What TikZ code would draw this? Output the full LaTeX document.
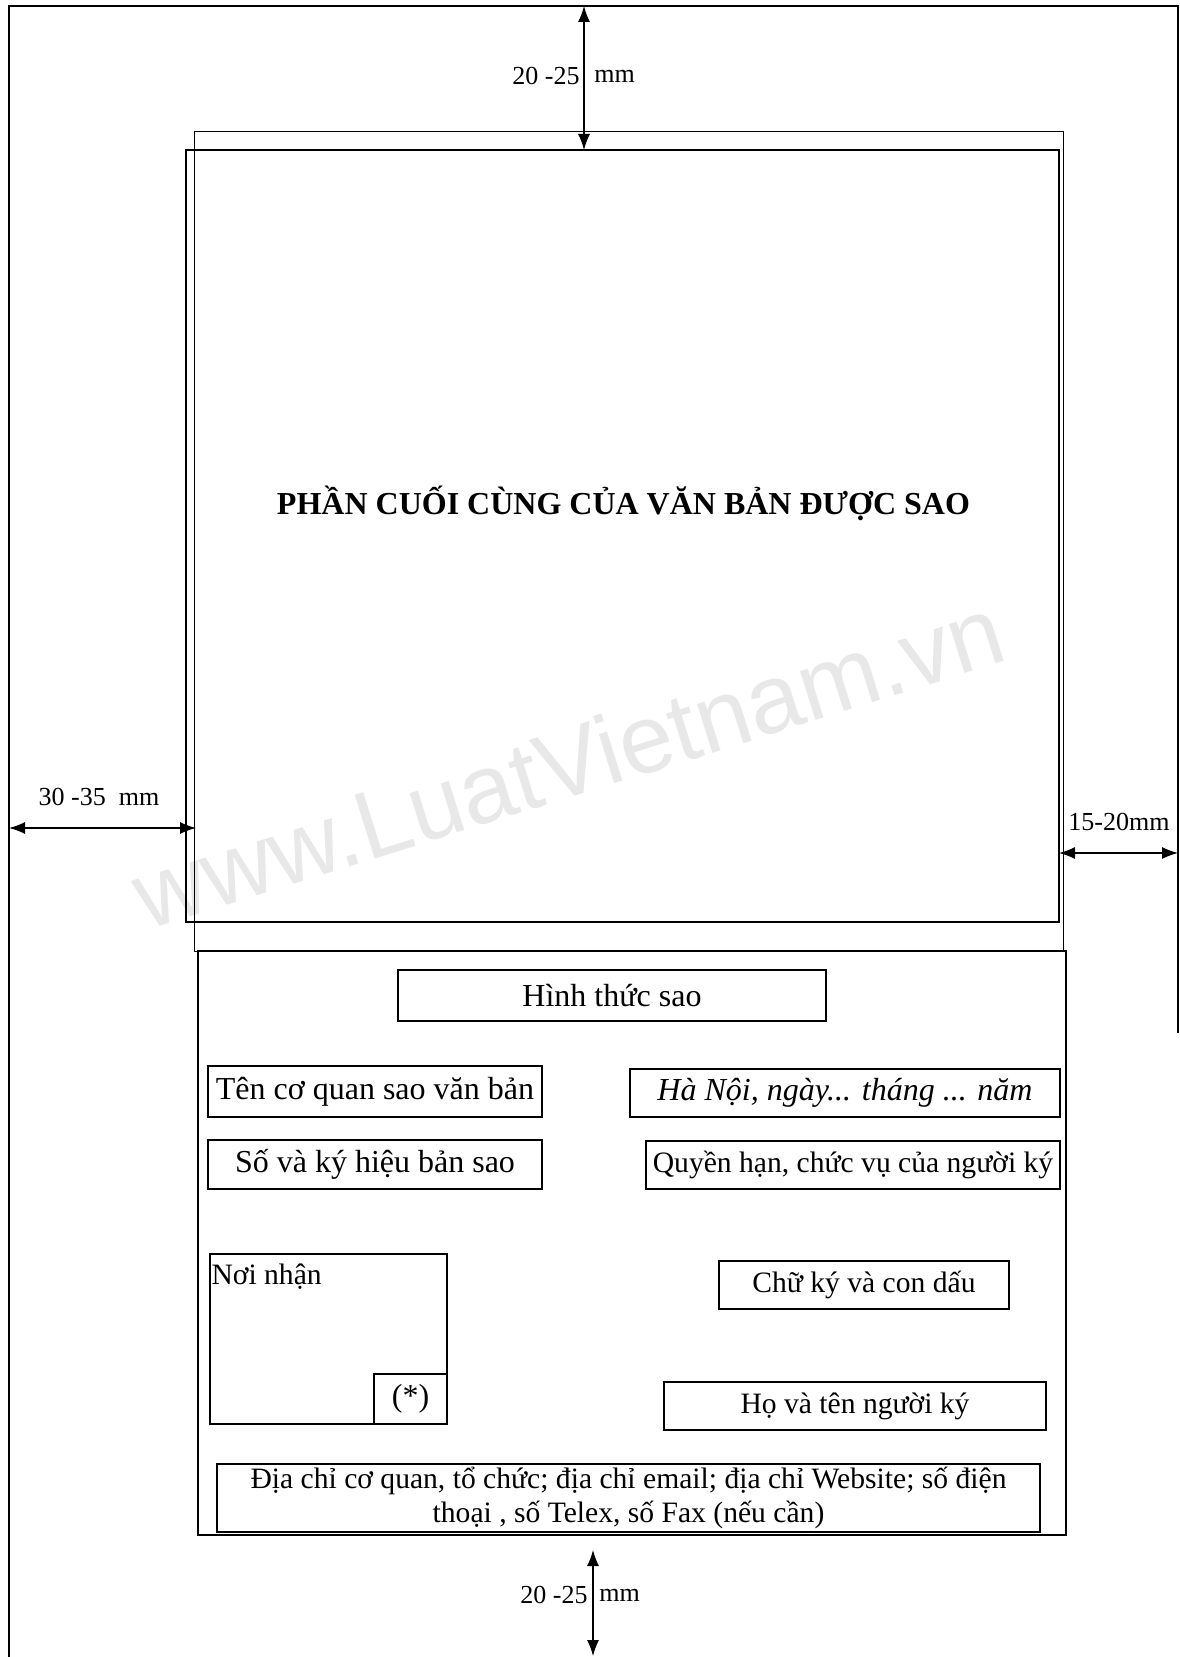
\documentclass[tikz,border=0pt]{standalone}
\usepackage{fontspec}
\setmainfont{Liberation Serif}
\setsansfont{Liberation Sans}
\usepackage{tikz}
\usetikzlibrary{arrows.meta,positioning,calc}
\usepackage{xcolor}
\definecolor{wmgray}{RGB}{232,232,232}

\begin{document}
\begin{tikzpicture}[
  x=0.5pt,y=-0.5pt,
  every node/.style={font=\fontsize{16}{17}\selectfont},
  page/.style={line width=1pt},
  frame/.style={line width=0.9pt},
  thinframe/.style={line width=0.5pt},
  tbox/.style={draw,line width=0.9pt,inner sep=1pt,align=center},
  small/.style={font=\fontsize{14.8}{17}\selectfont},
  dimarr/.style={line width=0.6pt,{Latex[length=8pt,width=6pt]}-{Latex[length=8pt,width=6pt]}},
  dimlbl/.style={inner sep=0pt,font=\fontsize{13}{15}\selectfont}
]
\useasboundingbox (0,0) rectangle (1179,1657);
% watermark
\node[rotate=17.4,text=wmgray,font=\fontsize{48.6}{50}\sffamily] (wm) at (568,762) {www.LuatVietnam.vn};

% page edge
\draw[page] (9,1657) -- (9,6) -- (1178,6) -- (1178,1033);

% frames
\draw[thinframe] (194,132) rectangle (1063,951);
\node[draw,frame,minimum width=436.5pt,minimum height=386pt] (content) at (622.5,536) {};
\draw[frame] (198,951) rectangle (1066,1535);
\node[font=\fontsize{16}{17}\bfseries] (head) at (623.5,503) {PHẦN CUỐI CÙNG CỦA VĂN BẢN ĐƯỢC SAO};

% lower part
\node[tbox,minimum width=214pt,minimum height=25.5pt] (hinhthuc) at (612,995.5) {Hình thức sao};
\node[tbox,minimum width=167pt,minimum height=25.5pt] (tencq) at (375,1091.5) {Tên cơ quan sao văn bản};
\node[tbox,minimum width=215pt,minimum height=24pt] (diadanh) at (845,1093) {\itshape Hà Nội, ngày... tháng ... năm};
\node[tbox,minimum width=167pt,minimum height=24.5pt] (sokh) at (375,1164.5) {Số và ký hiệu bản sao};
\node[tbox,small,minimum width=207pt,minimum height=24pt] (quyenhan) at (853,1165) {Quyền hạn, chức vụ của người ký};
\node[tbox,minimum width=118.5pt,minimum height=85pt] (noinhan) at (328.5,1339) {};
\node[small,inner sep=1pt,anchor=north west] (noinhanTxt) at ([yshift=-4pt]noinhan.north west) {Nơi nhận};
\node[tbox,minimum width=36.5pt,minimum height=25pt] (star) at (410.5,1399) {(*)};
\node[tbox,small,minimum width=145pt,minimum height=24pt] (chuky) at (864,1285) {Chữ ký và con dấu};
\node[tbox,small,minimum width=191pt,minimum height=24pt] (hoten) at (855,1406) {Họ và tên người ký};
\node[tbox,small,minimum width=411.5pt,minimum height=34pt] (diachi) at (628.5,1498) {Địa chỉ cơ quan, tổ chức; địa chỉ email; địa chỉ Website; số điện\\thoại , số Telex, số Fax (nếu cần)};

% margins
\coordinate (tA) at (584,6);
\coordinate (tB) at (584,150);
\draw[dimarr] (tA) -- (tB);
\node[dimlbl,anchor=east] (topL) at (580,76) {20 -25};
\node[dimlbl,anchor=west] (topR) at (594,76) {mm};

\coordinate (lA) at (9,828);
\coordinate (lB) at (196,828);
\draw[dimarr] (lA) -- (lB);
\node[dimlbl] (leftL) at (99,797) {30 -35\ \ mm};

\coordinate (rA) at (1059,853);
\coordinate (rB) at (1178,853);
\draw[dimarr] (rA) -- (rB);
\node[dimlbl] (rightL) at (1119,822) {15-20mm};

\coordinate (bA) at (593,1550);
\coordinate (bB) at (593,1656);
\draw[dimarr] (bA) -- (bB);
\node[dimlbl,anchor=east] (botL) at (588,1595) {20 -25};
\node[dimlbl,anchor=west] (botR) at (599,1595) {mm};
\end{tikzpicture}
\end{document}
